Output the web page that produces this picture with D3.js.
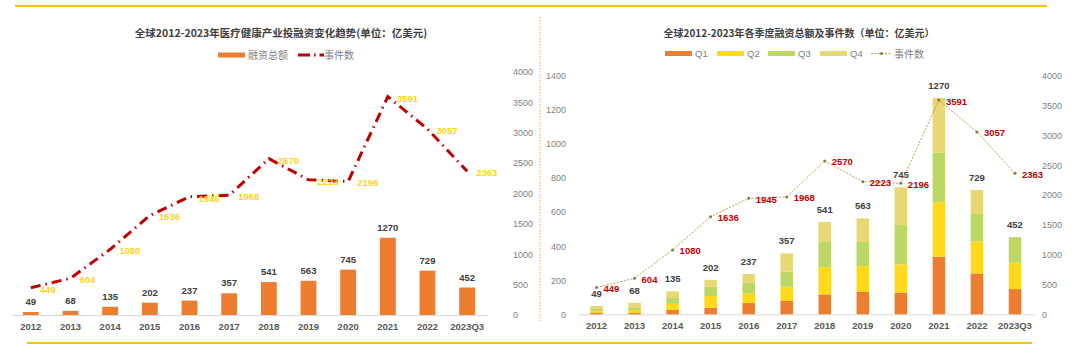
<!DOCTYPE html>
<html lang="zh">
<head>
<meta charset="UTF-8">
<title>全球医疗健康产业投融资</title>
<script src="https://d3js.org/d3.v7.min.js"></script>
<style>
  body { margin:0; background:#fff; }
  svg text { font-family: "Liberation Sans", Arial, sans-serif; }
  .cn { font-family: "Noto Sans CJK SC", sans-serif; }
  .tick text { fill:#7f7f7f; font-size:9px; }
  .val { fill:#404040; font-size:9.5px; font-weight:bold; }
</style>
</head>
<body>
<script>
var years  = ["2012","2013","2014","2015","2016","2017","2018","2019","2020","2021","2022","2023Q3"];
var totals = [49, 68, 135, 202, 237, 357, 541, 563, 745, 1270, 729, 452];
var events = [449, 604, 1080, 1636, 1945, 1968, 2570, 2223, 2196, 3591, 3057, 2363];
var q1 = [8, 8, 25, 39, 66, 78, 117, 131, 127, 338, 240, 148];
var q2 = [10, 17, 36, 68, 55, 84, 160, 152, 166, 320, 188, 155];
var q3 = [13, 16, 35, 55, 63, 88, 147, 141, 231, 290, 160, 149];
var q4 = [18, 27, 39, 40, 53, 107, 117, 139, 221, 322, 141, 0];
var quarters = ["Q1","Q2","Q3","Q4"];
var qColors = ["#ED7D31","#FFD91A","#BCD763","#E7D873"];

var svg = d3.select("body").append("svg")
    .attr("width",1080).attr("height",350)
    .style("background","#fff");

// frame lines
svg.append("line").attr("x1",15).attr("x2",1047).attr("y1",6).attr("y2",6)
   .attr("stroke","#FFC000").attr("stroke-width",2);
svg.append("line").attr("x1",27).attr("x2",1032).attr("y1",343).attr("y2",343)
   .attr("stroke","#FFC000").attr("stroke-width",2);
svg.append("line").attr("x1",540).attr("x2",540).attr("y1",17).attr("y2",321)
   .attr("stroke","#F4B183").attr("stroke-width",1.2).attr("stroke-dasharray","1.5,1.5");

var fmt = d3.format("d");

// ---------- left chart ----------
var x1 = d3.scaleBand().domain(years).range([11,487]).paddingInner(0.6).paddingOuter(0.3);
var y1 = d3.scaleLinear().domain([0,4000]).range([315,71.7]);

var g1 = svg.append("g");
g1.append("text").attr("class","cn").attr("x",281).attr("y",37).attr("text-anchor","middle")
  .style("font-size","10.5px").style("font-weight","bold").style("fill","#404040")
  .text("全球2012-2023年医疗健康产业投融资变化趋势(单位：亿美元)");

// legend
g1.append("rect").attr("x",218).attr("y",52.5).attr("width",27).attr("height",5).attr("fill","#ED7D31");
g1.append("text").attr("class","cn").attr("x",248).attr("y",59).style("font-size","10px").style("fill","#7f7f7f").text("融资总额");
g1.append("line").attr("x1",298).attr("x2",324).attr("y1",55).attr("y2",55)
  .attr("stroke","#C00000").attr("stroke-width",3).attr("stroke-dasharray","12,4,1.5,4");
g1.append("text").attr("class","cn").attr("x",324).attr("y",59).style("font-size","10px").style("fill","#7f7f7f").text("事件数");

g1.append("g").attr("transform","translate(510,0)")
  .call(d3.axisRight(y1).ticks(8).tickFormat(fmt).tickSize(0).tickPadding(3))
  .call(function(g){ g.select(".domain").remove(); });

g1.append("g").attr("transform","translate(0,315)")
  .call(d3.axisBottom(x1).tickSize(0).tickPadding(8))
  .call(function(g){ g.select(".domain").attr("stroke","#d9d9d9"); g.selectAll("text").style("fill","#595959").style("font-size","9.5px").style("font-weight","bold"); });

g1.selectAll(".bar").data(totals).enter().append("rect")
  .attr("x",function(d,i){ return x1(years[i]); })
  .attr("width",x1.bandwidth())
  .attr("y",function(d){ return y1(d); })
  .attr("height",function(d){ return y1(0)-y1(d); })
  .attr("fill","#ED7D31");

g1.selectAll(".bv").data(totals).enter().append("text").attr("class","val")
  .attr("x",function(d,i){ return x1(years[i])+x1.bandwidth()/2; })
  .attr("y",function(d){ return y1(d)-7; })
  .attr("text-anchor","middle").text(function(d){ return d; });

var line1 = d3.line()
  .x(function(d,i){ return x1(years[i])+x1.bandwidth()/2; })
  .y(function(d){ return y1(d); });
g1.append("path").attr("d",line1(events)).attr("fill","none")
  .attr("stroke","#C00000").attr("stroke-width",3).attr("stroke-dasharray","10,5,1.5,5");

g1.selectAll(".ev").data(events).enter().append("text")
  .attr("x",function(d,i){ return x1(years[i])+x1.bandwidth()/2+9; })
  .attr("y",function(d){ return y1(d)+5; })
  .style("font-size","9.5px").style("font-weight","bold").style("fill","#FFD320")
  .text(function(d){ return d; });

// ---------- right chart ----------
var x2 = d3.scaleBand().domain(years).range([577.5,1034]).paddingInner(0.67).paddingOuter(0.335);
var y2 = d3.scaleLinear().domain([0,1400]).range([314.3,75.7]);
var y3 = d3.scaleLinear().domain([0,4000]).range([314.3,75.7]);

var g2 = svg.append("g");
g2.append("text").attr("class","cn").attr("x",799).attr("y",37).attr("text-anchor","middle")
  .style("font-size","10px").style("font-weight","bold").style("fill","#404040")
  .text("全球2012-2023年各季度融资总额及事件数（单位：亿美元）");

var legX = [665,717,768,820];
quarters.forEach(function(q,i){
  g2.append("rect").attr("x",legX[i]).attr("y",51).attr("width",27).attr("height",5).attr("fill",qColors[i]);
  g2.append("text").attr("x",legX[i]+30).attr("y",57).style("font-size","9.5px").style("fill","#7f7f7f").text(q);
});
g2.append("line").attr("x1",871).attr("x2",892).attr("y1",53.5).attr("y2",53.5)
  .attr("stroke","#BF9F50").attr("stroke-width",1).attr("stroke-dasharray","2,1.5");
g2.append("circle").attr("cx",881.5).attr("cy",53.5).attr("r",1.5).attr("fill","#8C7A3A");
g2.append("text").attr("class","cn").attr("x",894).attr("y",57.5).style("font-size","10px").style("fill","#7f7f7f").text("事件数");

g2.append("g").attr("transform","translate(569,0)")
  .call(d3.axisLeft(y2).ticks(7).tickFormat(fmt).tickSize(0).tickPadding(3))
  .call(function(g){ g.select(".domain").remove(); });
g2.append("g").attr("transform","translate(1039,0)")
  .call(d3.axisRight(y3).ticks(8).tickFormat(fmt).tickSize(0).tickPadding(3))
  .call(function(g){ g.select(".domain").remove(); });

g2.append("g").attr("transform","translate(0,314.3)")
  .call(d3.axisBottom(x2).tickSize(0).tickPadding(8))
  .call(function(g){ g.select(".domain").attr("stroke","#d9d9d9"); g.selectAll("text").style("fill","#595959").style("font-size","9.5px").style("font-weight","bold"); });

var rows = years.map(function(y,i){ return {year:y, Q1:q1[i], Q2:q2[i], Q3:q3[i], Q4:q4[i]}; });
var stack = d3.stack().keys(quarters)(rows);

g2.selectAll(".layer").data(stack).enter().append("g")
  .attr("fill",function(d,i){ return qColors[i]; })
  .selectAll("rect").data(function(d){ return d; }).enter().append("rect")
  .attr("x",function(d){ return x2(d.data.year); })
  .attr("width",x2.bandwidth())
  .attr("y",function(d){ return y2(d[1]); })
  .attr("height",function(d){ return y2(d[0])-y2(d[1]); });

g2.selectAll(".bv2").data(totals).enter().append("text").attr("class","val")
  .attr("x",function(d,i){ return x2(years[i])+x2.bandwidth()/2; })
  .attr("y",function(d){ return y2(d)-9; })
  .attr("text-anchor","middle").text(function(d){ return d; });

var line2 = d3.line()
  .x(function(d,i){ return x2(years[i])+x2.bandwidth()/2; })
  .y(function(d){ return y3(d); });
g2.append("path").attr("d",line2(events)).attr("fill","none")
  .attr("stroke","#BF9F50").attr("stroke-width",1).attr("stroke-dasharray","2,1.5");
g2.selectAll(".pt").data(events).enter().append("circle")
  .attr("cx",function(d,i){ return x2(years[i])+x2.bandwidth()/2; })
  .attr("cy",function(d){ return y3(d); })
  .attr("r",1.5).attr("fill","#8C7A3A");

g2.selectAll(".ev2").data(events).enter().append("text")
  .attr("x",function(d,i){ return x2(years[i])+x2.bandwidth()/2+7; })
  .attr("y",function(d){ return y3(d)+4.5; })
  .style("font-size","9.5px").style("font-weight","bold").style("fill","#C00000")
  .text(function(d){ return d; });
</script>
</body>
</html>
